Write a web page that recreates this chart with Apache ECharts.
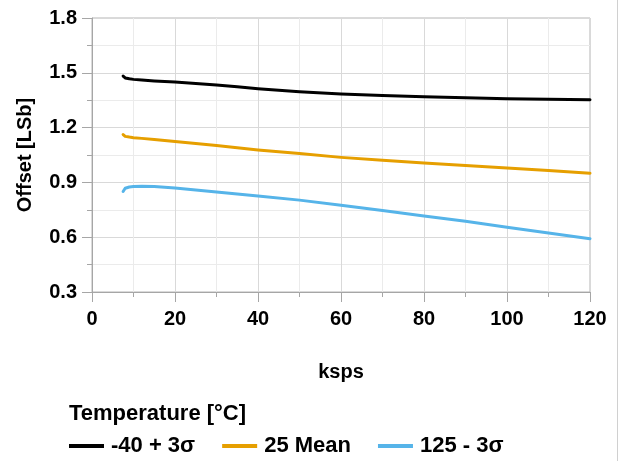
<!DOCTYPE html>
<html>
<head>
<meta charset="utf-8">
<script src="https://cdn.jsdelivr.net/npm/echarts@6/dist/echarts.min.js"></script>
<style>html,body{margin:0;padding:0;background:#fff;}#c{width:619px;height:461px;}</style>
</head>
<body>
<div id="c"></div>
<script>
const ksps = [7.5, 8, 9, 10, 12, 15, 20, 25, 30, 35, 40, 50, 60, 70, 80, 90, 100, 110, 120];
const cold = [1.482, 1.472, 1.467, 1.464, 1.460, 1.455, 1.449, 1.441, 1.433, 1.423, 1.413, 1.396, 1.384, 1.376, 1.369, 1.363, 1.358, 1.355, 1.353];
const room = [1.162, 1.152, 1.148, 1.145, 1.141, 1.135, 1.124, 1.113, 1.102, 1.090, 1.078, 1.058, 1.037, 1.021, 1.006, 0.992, 0.979, 0.965, 0.950];
const hot  = [0.850, 0.868, 0.875, 0.878, 0.879, 0.877, 0.869, 0.859, 0.848, 0.837, 0.826, 0.803, 0.775, 0.746, 0.716, 0.687, 0.655, 0.623, 0.592];
const seriesNames = ['-40 + 3σ', '25 Mean', '125 - 3σ'];
const seriesColors = ['#000000', '#E69F00', '#56B4E9'];
const seriesData = [cold, room, hot];

const FONT = '"Liberation Sans", Arial, sans-serif';
const chart = echarts.init(document.getElementById('c'), null, {renderer: 'canvas'});
const axisGray = '#a6a6a6';
chart.setOption({
  animation: false,
  backgroundColor: '#ffffff',
  textStyle: {fontFamily: FONT},
  grid: {left: 92, right: 29, top: 18, bottom: 169, show: true, borderColor: '#b4b4b4', borderWidth: 1},
  title: {
    text: 'Temperature [°C]', left: 69, top: 403, padding: 0,
    textStyle: {fontFamily: FONT, fontSize: 22, fontWeight: 'bold', color: '#000'}
  },
  legend: {
    left: 69, top: 435, padding: 0, itemWidth: 35, itemHeight: 4, itemGap: 27, icon: 'rect',
    textStyle: {fontFamily: FONT, fontSize: 22, fontWeight: 'bold', color: '#000', padding: [0, 0, 0, 2]},
    data: seriesNames
  },
  xAxis: {
    type: 'value', min: 0, max: 120, interval: 20,
    name: 'ksps', nameLocation: 'middle', nameGap: 70,
    nameTextStyle: {fontFamily: FONT, fontSize: 20, fontWeight: 'bold', color: '#000'},
    axisLine: {show: true, lineStyle: {color: axisGray, width: 1}},
    axisTick: {show: true, length: 10, lineStyle: {color: axisGray}},
    minorTick: {show: true, splitNumber: 2, length: 5, lineStyle: {color: axisGray}},
    axisLabel: {fontFamily: FONT, fontSize: 20, fontWeight: 'bold', color: '#000', margin: 17},
    splitLine: {show: true, lineStyle: {color: '#d9d9d9', width: 1}},
    minorSplitLine: {show: true, lineStyle: {color: '#ebebeb', width: 1}}
  },
  yAxis: {
    type: 'value', min: 0.3, max: 1.8, interval: 0.3,
    name: 'Offset [LSb]', nameLocation: 'middle', nameGap: 57, nameRotate: 90,
    nameTextStyle: {fontFamily: FONT, fontSize: 20, fontWeight: 'bold', color: '#000'},
    axisLine: {show: true, lineStyle: {color: axisGray, width: 1}},
    axisTick: {show: true, length: 10, lineStyle: {color: axisGray}},
    minorTick: {show: true, splitNumber: 2, length: 5, lineStyle: {color: axisGray}},
    axisLabel: {fontFamily: FONT, fontSize: 20, fontWeight: 'bold', color: '#000', margin: 15,
      formatter: v => v.toFixed(1)},
    splitLine: {show: true, lineStyle: {color: '#d9d9d9', width: 1}},
    minorSplitLine: {show: true, lineStyle: {color: '#ebebeb', width: 1}}
  },
  graphic: [{
    type: 'line', shape: {x1: 617.5, y1: 0, x2: 617.5, y2: 461},
    style: {stroke: '#d0d0d0', lineWidth: 1}, silent: true
  }],
  series: seriesNames.map((n, i) => ({
    name: n, type: 'line', showSymbol: false, smooth: false,
    color: seriesColors[i],
    lineStyle: {width: 3, color: seriesColors[i], join: 'round', cap: 'round'},
    data: ksps.map((x, j) => [x, seriesData[i][j]])
  }))
});
</script>
</body>
</html>
